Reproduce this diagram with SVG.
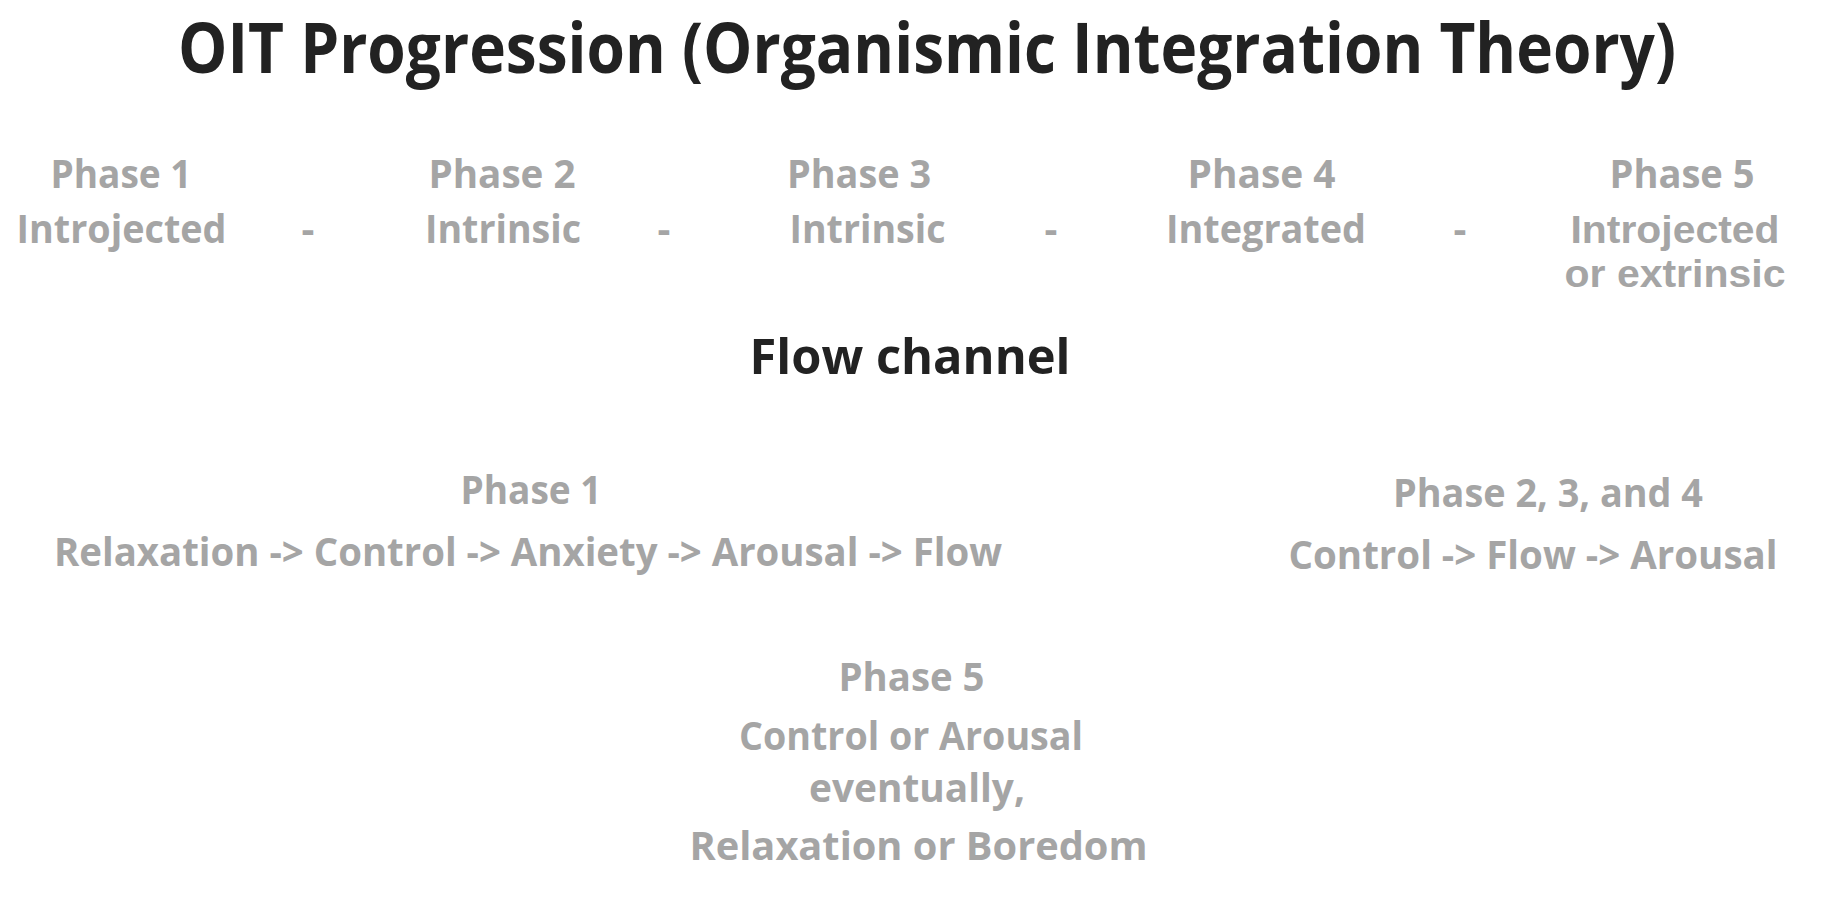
<svg xmlns="http://www.w3.org/2000/svg" width="1842" height="902" viewBox="0 0 1842 902">
<style>
text{font-family:"Open Sans","Noto Sans","DejaVu Sans",sans-serif;font-weight:700;text-anchor:middle}
.title{font-size:69px;fill:#222222}
.head{font-size:49px;fill:#222222}
.g{font-size:40px;fill:#a5a5a5}
.t{font-family:"Liberation Sans",Arial,sans-serif;font-size:39px}
</style>
<rect width="1842" height="902" fill="#ffffff"/>
<g id="title"><text class="title" x="927" y="73" textLength="1498" lengthAdjust="spacingAndGlyphs">OIT Progression (Organismic Integration Theory)</text></g>
<g id="oit-phase1"><text class="g" x="121" y="188" textLength="141" lengthAdjust="spacingAndGlyphs">Phase 1</text><text class="g" x="121.5" y="243" textLength="210" lengthAdjust="spacingAndGlyphs">Introjected</text></g>
<g id="oit-phase2"><text class="g" x="502" y="188" textLength="147" lengthAdjust="spacingAndGlyphs">Phase 2</text><text class="g" x="503" y="243" textLength="156" lengthAdjust="spacingAndGlyphs">Intrinsic</text></g>
<g id="oit-phase3"><text class="g" x="859" y="188" textLength="144" lengthAdjust="spacingAndGlyphs">Phase 3</text><text class="g" x="867.5" y="243" textLength="156" lengthAdjust="spacingAndGlyphs">Intrinsic</text></g>
<g id="oit-phase4"><text class="g" x="1261.5" y="188" textLength="148" lengthAdjust="spacingAndGlyphs">Phase 4</text><text class="g" x="1266" y="243" textLength="200" lengthAdjust="spacingAndGlyphs">Integrated</text></g>
<g id="oit-phase5"><text class="g" x="1682" y="188" textLength="145" lengthAdjust="spacingAndGlyphs">Phase 5</text><text class="g t" x="1675" y="243" textLength="209" lengthAdjust="spacingAndGlyphs">Introjected</text><text class="g t" x="1675" y="287" textLength="221" lengthAdjust="spacingAndGlyphs">or extrinsic</text></g>
<g id="connectors">
<text class="g" x="308" y="243">-</text>
<text class="g" x="664" y="243">-</text>
<text class="g" x="1051" y="243">-</text>
<text class="g" x="1460" y="243">-</text>
</g>
<g id="flow-channel"><text class="head" x="910" y="374" textLength="321" lengthAdjust="spacingAndGlyphs">Flow channel</text></g>
<g id="flow-phase1"><text class="g" x="531" y="504" textLength="141" lengthAdjust="spacingAndGlyphs">Phase 1</text><text class="g" x="528" y="566" textLength="948" lengthAdjust="spacingAndGlyphs">Relaxation -&gt; Control -&gt; Anxiety -&gt; Arousal -&gt; Flow</text></g>
<g id="flow-phase234"><text class="g" x="1548" y="507" textLength="310" lengthAdjust="spacingAndGlyphs">Phase 2, 3, and 4</text><text class="g" x="1533" y="569" textLength="489" lengthAdjust="spacingAndGlyphs">Control -&gt; Flow -&gt; Arousal</text></g>
<g id="flow-phase5"><text class="g" x="911.5" y="691" textLength="146" lengthAdjust="spacingAndGlyphs">Phase 5</text><text class="g" x="911" y="750" textLength="344" lengthAdjust="spacingAndGlyphs">Control or Arousal</text><text class="g" x="917" y="802" textLength="216" lengthAdjust="spacingAndGlyphs">eventually,</text><text class="g" x="918.5" y="860" textLength="458" lengthAdjust="spacingAndGlyphs">Relaxation or Boredom</text></g>
</svg>
